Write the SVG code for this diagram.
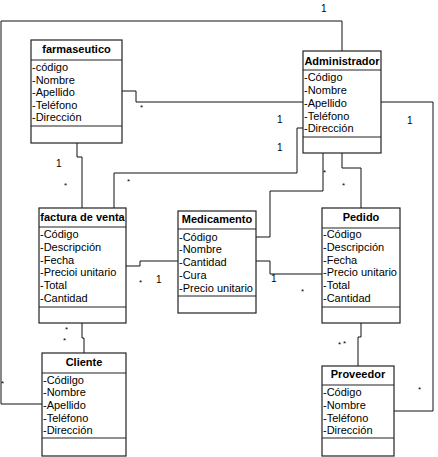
<svg xmlns="http://www.w3.org/2000/svg" width="438" height="457" viewBox="0 0 438 457">
<style>
.box{fill:#fff;stroke:#222;stroke-width:1.2}
.sep{stroke:#222;stroke-width:1.2}
.t{font-family:"Liberation Sans",Arial,sans-serif;font-size:11px;font-weight:bold;fill:#000;text-anchor:middle}
.a{font-family:"Liberation Sans",Arial,sans-serif;font-size:11px;fill:#000}
.c{fill:none;stroke:#111;stroke-width:1}
.m{font-family:"Liberation Sans",Arial,sans-serif;font-size:10px;fill:#000}
.s{font-family:"Liberation Sans",Arial,sans-serif;font-size:8px;fill:#000}
</style>
<rect width="438" height="457" fill="#fff"/>
<g id="connectors">
<polyline class="c" points="42,404 1,404 1,21 342,21 342,51"/>
<polyline class="c" points="122,91 136,91 136,102 303,102"/>
<polyline class="c" points="381,102 433,102 433,411 394,411"/>
<polyline class="c" points="303,128 297,128 297,173 114,173 114,208"/>
<polyline class="c" points="77,143 77,157 82,157 82,208"/>
<polyline class="c" points="323,153 323,191 270,191 270,237 256,237"/>
<polyline class="c" points="342,153 342,168 361,168 361,208"/>
<polyline class="c" points="256,261 270,261 270,274 322,274"/>
<polyline class="c" points="126,266 140,266 140,261 178,261"/>
<polyline class="c" points="82,323 82,338 84,338 84,353"/>
<polyline class="c" points="361,323 361,337 358,337 358,366"/>
<text class="m" x="321" y="12">1</text>
<text class="s" x="1" y="386">*</text>
<text class="s" x="140" y="110">*</text>
<text class="m" x="407" y="124">1</text>
<text class="s" x="418" y="392">*</text>
<text class="m" x="277" y="123">1</text>
<text class="m" x="277" y="151">1</text>
<text class="s" x="127" y="184">*</text>
<text class="m" x="56" y="167">1</text>
<text class="s" x="64" y="188">*</text>
<text class="s" x="323" y="175">*</text>
<text class="s" x="342" y="188">*</text>
<text class="m" x="271" y="282">1</text>
<text class="s" x="301" y="294">*</text>
<text class="s" x="139" y="285">*</text>
<text class="m" x="156" y="283">1</text>
<text class="s" x="65" y="332">*</text>
<text class="s" x="63" y="343">*</text>
<text class="s" x="338" y="347">*</text>
<text class="s" x="343" y="346">*</text>
</g>
<g id="farmaseutico">
<rect class="box" x="31" y="40" width="91" height="103"/>
<line class="sep" x1="31" y1="60" x2="122" y2="60"/>
<line class="sep" x1="31" y1="126" x2="122" y2="126"/>
<text class="t" x="76.5" y="53">farmaseutico</text>
<text class="a" x="32" y="71">-código</text>
<text class="a" x="32" y="83.5">-Nombre</text>
<text class="a" x="32" y="96">-Apellido</text>
<text class="a" x="32" y="108.5">-Teléfono</text>
<text class="a" x="32" y="121">-Dirección</text>
</g>
<g id="administrador">
<rect class="box" x="303" y="51" width="78" height="102"/>
<line class="sep" x1="303" y1="70" x2="381" y2="70"/>
<line class="sep" x1="303" y1="137" x2="381" y2="137"/>
<text class="t" x="342" y="65">Administrador</text>
<text class="a" x="304" y="81">-Código</text>
<text class="a" x="304" y="94">-Nombre</text>
<text class="a" x="304" y="107">-Apellido</text>
<text class="a" x="304" y="120">-Teléfono</text>
<text class="a" x="304" y="132">-Dirección</text>
</g>
<g id="factura">
<rect class="box" x="39" y="208" width="87" height="115"/>
<line class="sep" x1="39" y1="227" x2="126" y2="227"/>
<line class="sep" x1="39" y1="307" x2="126" y2="307"/>
<text class="t" x="82.5" y="221">factura de venta</text>
<text class="a" x="40" y="238">-Código</text>
<text class="a" x="40" y="251">-Descripción</text>
<text class="a" x="40" y="264">-Fecha</text>
<text class="a" x="40" y="276">-Precioi unitario</text>
<text class="a" x="40" y="289">-Total</text>
<text class="a" x="40" y="302">-Cantidad</text>
</g>
<g id="medicamento">
<rect class="box" x="178" y="211" width="78" height="102"/>
<line class="sep" x1="178" y1="229" x2="256" y2="229"/>
<line class="sep" x1="178" y1="296" x2="256" y2="296"/>
<text class="t" x="217" y="223">Medicamento</text>
<text class="a" x="179" y="241">-Código</text>
<text class="a" x="179" y="253">-Nombre</text>
<text class="a" x="179" y="266">-Cantidad</text>
<text class="a" x="179" y="279">-Cura</text>
<text class="a" x="179" y="292">-Precio unitario</text>
</g>
<g id="pedido">
<rect class="box" x="322" y="208" width="78" height="115"/>
<line class="sep" x1="322" y1="228" x2="400" y2="228"/>
<line class="sep" x1="322" y1="307" x2="400" y2="307"/>
<text class="t" x="361" y="221">Pedido</text>
<text class="a" x="323" y="238">-Código</text>
<text class="a" x="323" y="251">-Descripción</text>
<text class="a" x="323" y="264">-Fecha</text>
<text class="a" x="323" y="276">-Precio unitario</text>
<text class="a" x="323" y="289">-Total</text>
<text class="a" x="323" y="302">-Cantidad</text>
</g>
<g id="cliente">
<rect class="box" x="42" y="353" width="84" height="103"/>
<line class="sep" x1="42" y1="373" x2="126" y2="373"/>
<line class="sep" x1="42" y1="438" x2="126" y2="438"/>
<text class="t" x="84" y="366">Cliente</text>
<text class="a" x="43" y="384">-Códilgo</text>
<text class="a" x="43" y="396">-Nombre</text>
<text class="a" x="43" y="409">-Apellido</text>
<text class="a" x="43" y="422">-Teléfono</text>
<text class="a" x="43" y="434">-Dirección</text>
</g>
<g id="proveedor">
<rect class="box" x="322" y="366" width="72" height="90"/>
<line class="sep" x1="322" y1="385" x2="394" y2="385"/>
<line class="sep" x1="322" y1="438" x2="394" y2="438"/>
<text class="t" x="358" y="378">Proveedor</text>
<text class="a" x="323" y="396">-Código</text>
<text class="a" x="323" y="409">-Nombre</text>
<text class="a" x="323" y="422">-Teléfono</text>
<text class="a" x="323" y="434">-Dirección</text>
</g>
</svg>
